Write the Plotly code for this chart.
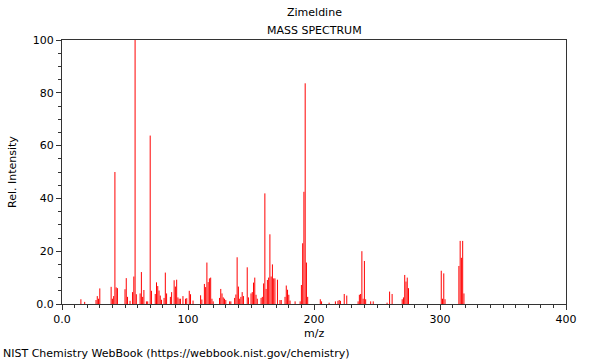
import plotly.graph_objects as go

mz = [15, 18, 27, 28, 29, 30,
      39, 40, 41, 42, 43, 44,
      50, 51, 52, 54, 56, 57, 58, 59,
      62, 63, 64, 65, 67, 68, 70, 71,
      74, 75, 76, 77, 78, 79, 81, 82, 83, 86, 87, 89, 90, 91, 92, 93, 94, 96, 98, 99,
      101, 102, 104, 110, 111, 113, 114, 115, 116, 117, 118, 119, 120,
      125, 126, 127, 128, 129, 130, 133, 134, 137, 138, 139, 140, 141, 142, 143, 144,
      147, 148, 150, 151, 152, 153, 154, 155, 158, 159, 160, 161, 162, 163, 164, 165,
      166, 167, 168, 169, 171, 173, 174, 177, 178, 179, 180, 181, 185, 189,
      190, 191, 192, 193, 194, 195, 205, 206, 212, 217, 219, 220, 221, 224, 226,
      235, 236, 237, 238, 239, 240, 241, 245, 247, 258, 260, 262,
      270, 271, 272, 273, 274, 275, 301, 302, 303, 304, 315, 316, 317, 318, 319]
intensity = [1.8, 0.8, 1.5, 3.0, 2.0, 5.9,
             6.5, 2.0, 3.0, 50.0, 6.3, 6.0,
             5.6, 9.8, 2.7, 1.2, 4.5, 10.4, 100.0, 3.7,
             4.0, 12.1, 2.7, 5.3, 1.0, 1.0, 63.8, 5.0,
             3.8, 8.2, 6.8, 5.1, 3.2, 1.6, 2.3, 11.9, 4.0, 2.7, 4.5, 9.0, 6.6, 9.2, 2.5, 2.0, 2.0, 3.0, 2.0, 2.2,
             5.0, 3.7, 1.3, 3.3, 1.7, 7.6, 6.4, 15.7, 8.3, 9.7, 10.0, 2.0, 1.0,
             2.3, 5.7, 4.0, 2.5, 2.0, 1.5, 1.0, 1.0, 2.3, 3.6, 17.7, 6.6, 2.0, 2.7, 4.5, 3.0,
             13.9, 2.5, 4.0, 4.5, 8.1, 10.0, 3.5, 2.0, 2.3, 2.7, 7.8, 41.9, 5.7, 9.1, 10.0, 26.4,
             10.4, 15.0, 9.7, 9.7, 9.2, 1.5, 1.5, 2.7, 7.0, 5.4, 3.5, 1.3, 1.0, 1.0,
             7.2, 23.0, 42.5, 83.6, 15.7, 2.7, 1.8, 1.0, 0.5, 1.0, 1.2, 1.5, 1.2, 3.8, 3.2,
             1.0, 3.5, 3.8, 20.0, 2.0, 16.3, 1.8, 1.0, 1.0, 0.5, 4.7, 3.8,
             1.8, 2.5, 11.0, 8.5, 10.0, 6.0, 12.6, 2.0, 11.6, 1.8, 14.4, 23.9, 17.5, 23.9, 4.0]

x_tickvals = [0, 100, 200, 300, 400]
x_ticktext = ["0.0", "100", "200", "300", "400"]
y_tickvals = [0, 20, 40, 60, 80, 100]
y_ticktext = ["0.0", "20", "40", "60", "80", "100"]

FONT = "DejaVu Sans"

# stick spectrum: one vertical segment per peak, built from the data arrays
seg_x, seg_y = [], []
for m, v in zip(mz, intensity):
    seg_x += [m, m, None]
    seg_y += [0, v, None]

fig = go.Figure()
fig.add_trace(go.Scatter(x=seg_x, y=seg_y, mode="lines",
                         line=dict(color="rgb(255,0,0)", width=1),
                         hoverinfo="skip", connectgaps=False))

axis_common = dict(showgrid=False, zeroline=False, showline=True, linecolor="#333333",
                   linewidth=1, mirror=True, ticks="outside", ticklen=5, tickwidth=1,
                   tickcolor="#333333", tickfont=dict(family=FONT, size=11, color="black"))

fig.update_xaxes(range=[0, 400], tickvals=x_tickvals, ticktext=x_ticktext,
                 minor=dict(dtick=10, ticks="outside", ticklen=3, tickcolor="#333333"),
                 **axis_common)
fig.update_yaxes(range=[0, 100], tickvals=y_tickvals, ticktext=y_ticktext,
                 minor=dict(dtick=5, ticks="outside", ticklen=3, tickcolor="#333333"),
                 **axis_common)

fig.update_layout(
    width=600, height=360,
    margin=dict(l=62, r=34, t=40, b=56),
    paper_bgcolor="white", plot_bgcolor="white",
    showlegend=False,
    font=dict(family=FONT, size=11, color="black"),
    annotations=[
        dict(text="Zimeldine", x=0.5, y=1, xref="paper", yref="paper", yshift=28,
             showarrow=False, xanchor="center", yanchor="middle", font=dict(size=11)),
        dict(text="MASS SPECTRUM", x=0.5, y=1, xref="paper", yref="paper", yshift=10,
             showarrow=False, xanchor="center", yanchor="middle", font=dict(size=11)),
        dict(text="m/z", x=0.5, y=0, xref="paper", yref="paper", yshift=-29,
             showarrow=False, xanchor="center", yanchor="middle", font=dict(size=11)),
        dict(text="Rel. Intensity", x=0, y=0.5, xref="paper", yref="paper", xshift=-50,
             showarrow=False, xanchor="center", yanchor="middle", textangle=-90, font=dict(size=11)),
        dict(text="NIST Chemistry WebBook (https://webbook.nist.gov/chemistry)", x=0, y=0,
             xref="paper", yref="paper", xshift=-61, yshift=-49,
             showarrow=False, xanchor="left", yanchor="middle", font=dict(size=11)),
    ],
)

fig.write_html("out.html",
               config={"displayModeBar": False, "staticPlot": True},
               post_script="document.body.style.margin='0';document.body.style.overflow='hidden';")
